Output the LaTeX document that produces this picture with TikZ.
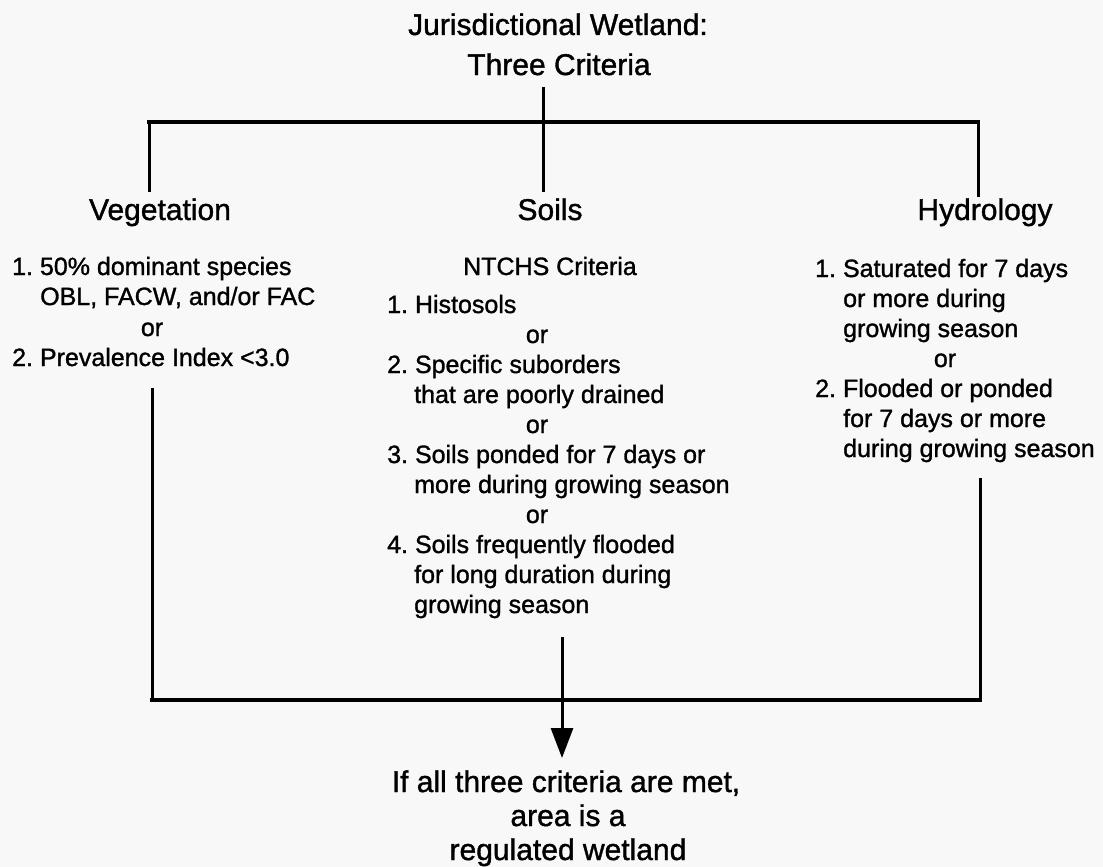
\documentclass[tikz,border=0pt]{standalone}
\usepackage{fontspec}
\setmainfont{Liberation Sans}[FakeBold=1.2]
\usetikzlibrary{arrows.meta}
\definecolor{bg}{HTML}{F8F8F8}
\frenchspacing
\tikzset{
  body/.style={inner sep=0pt, font=\fontsize{25}{30}\selectfont, text=black},
  head/.style={inner sep=0pt, font=\fontsize{30}{35}\selectfont, text=black},
  wire/.style={line width=3pt, draw=black},
  bar/.style={line width=4pt, draw=black, line cap=rect},
}
\begin{document}
\begin{tikzpicture}[x=1pt,y=-1pt]
\fill[bg] (0,0) rectangle (1103,867);
\useasboundingbox (0,0) rectangle (1103,867);

% title
\node[head, anchor=base] (t1) at (558,35) {Jurisdictional Wetland:};
\node[head, anchor=base] (t2) at (559,75) {Three Criteria};

% headers
\node[head, anchor=base] (veg) at (160,220) {Vegetation};
\node[head, anchor=base] (soil) at (550,220) {Soils};
\node[head, anchor=base] (hyd) at (985,220) {Hydrology};

% vegetation list
\node[body, anchor=base west] (v1) at (12,275) {1. 50\% dominant species};
\node[body, anchor=base west] (v2) at (40,305) {OBL, FACW, and/or FAC};
\node[body, anchor=base] (v3) at (152,336) {or};
\node[body, anchor=base west] (v4) at (12,366) {2. Prevalence Index <3.0};

% soils list
\node[body, anchor=base] (s0) at (550,275) {NTCHS Criteria};
\node[body, anchor=base west] (s1) at (387,313) {1. Histosols};
\node[body, anchor=base] (s2) at (537,343) {or};
\node[body, anchor=base west] (s3) at (387,373) {2. Specific suborders};
\node[body, anchor=base west] (s4) at (414,403) {that are poorly drained};
\node[body, anchor=base] (s5) at (537,433) {or};
\node[body, anchor=base west] (s6) at (387,463) {3. Soils ponded for 7 days or};
\node[body, anchor=base west] (s7) at (414,493) {more during growing season};
\node[body, anchor=base] (s8) at (537,523) {or};
\node[body, anchor=base west] (s9) at (387,553) {4. Soils frequently flooded};
\node[body, anchor=base west] (s10) at (414,583) {for long duration during};
\node[body, anchor=base west] (s11) at (414,613) {growing season};

% hydrology list
\node[body, anchor=base west] (h1) at (815,277) {1. Saturated for 7 days};
\node[body, anchor=base west] (h2) at (843,307) {or more during};
\node[body, anchor=base west] (h3) at (843,337) {growing season};
\node[body, anchor=base] (h4) at (945,367) {or};
\node[body, anchor=base west] (h5) at (815,397) {2. Flooded or ponded};
\node[body, anchor=base west] (h6) at (843,427) {for 7 days or more};
\node[body, anchor=base west] (h7) at (843,457) {during growing season};

% result
\node[head, anchor=base] (r1) at (566,792) {If all three criteria are met,};
\node[head, anchor=base] (r2) at (568,826) {area is a};
\node[head, anchor=base] (r3) at (568,860) {regulated wetland};

% junction coordinates
\coordinate (ttop) at (543,87);
\coordinate (tmid) at (543,122);
\coordinate (tl) at (149,122);
\coordinate (tr) at (978,122);
\coordinate (vend) at (149,192);
\coordinate (send) at (543,192);
\coordinate (hend) at (978,197);

\coordinate (vb0) at (152,388);
\coordinate (vb1) at (152,700);
\coordinate (sb0) at (562,637);
\coordinate (sb1) at (562,700);
\coordinate (sarr) at (562,758);
\coordinate (hb0) at (980,478);
\coordinate (hb1) at (980,700);

% top tree
\draw[wire] (ttop) -- (send);
\draw[bar] (tl) -- (tr);
\draw[wire] (tl) -- (vend);
\draw[wire] (tr) -- (hend);

% bottom tree
\draw[wire] (vb0) -- (vb1);
\draw[wire] (hb0) -- (hb1);
\draw[line width=3.5pt, line cap=rect] (vb1) -- (hb1);
\draw[wire, -{Triangle[length=30pt,width=22pt]}] (sb0) -- (sarr);
\end{tikzpicture}
\end{document}
